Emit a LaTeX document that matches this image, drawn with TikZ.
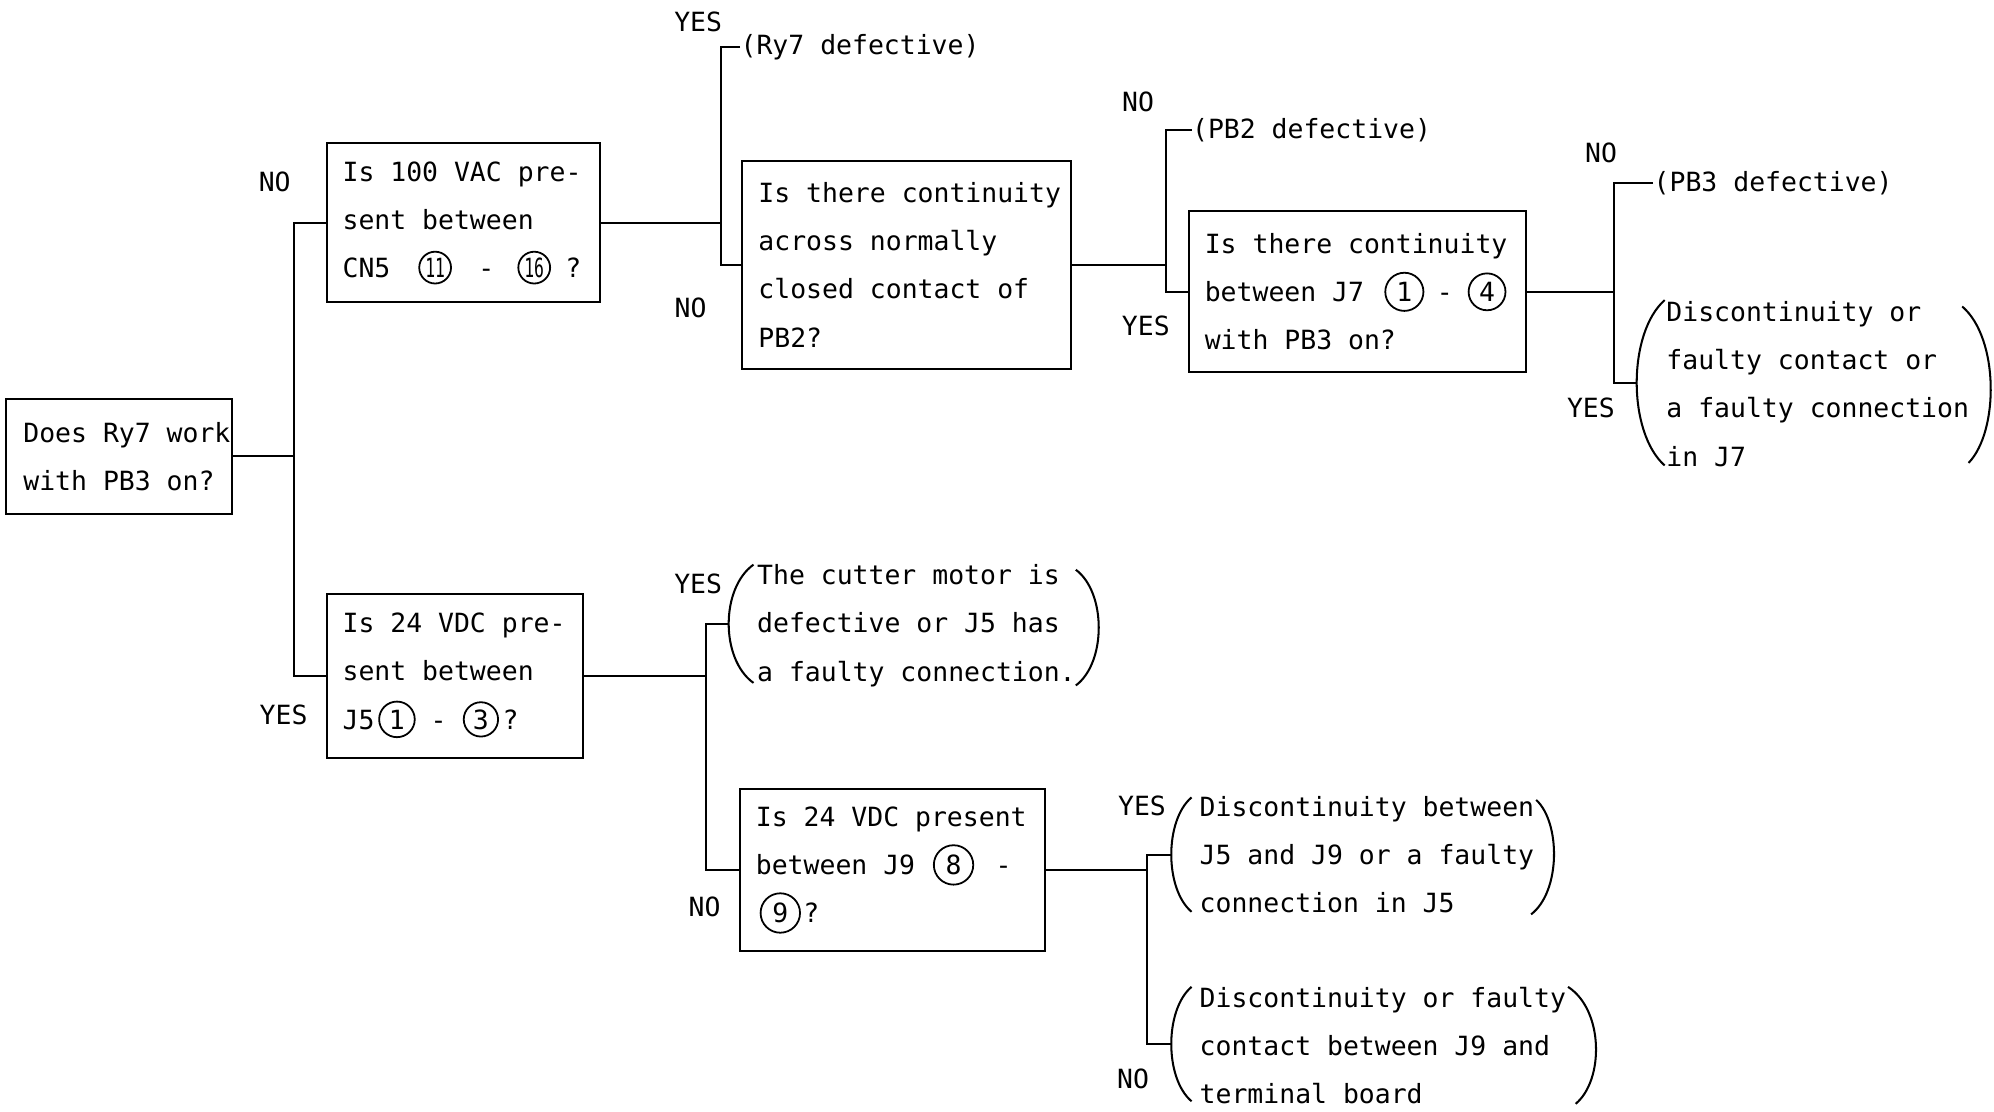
\documentclass[tikz,border=0pt]{standalone}
\usepackage{fontspec}
\usepackage{graphicx}
\newfontfamily\dvmono{DejaVu Sans Mono}
\newcommand{\cnum}[2]{\tikz[baseline=(cn.base)]\node[draw,circle,line width=0.7pt,inner sep=0pt,minimum size=#1](cn){#2};}
\newcommand{\cnumw}[2]{\cnum{#1}{\scalebox{0.62}[1]{#2}}}
\begin{document}
\begin{tikzpicture}[x=0.5pt,y=-0.5pt,
  qbox/.style={draw,line width=0.8pt,inner sep=0pt,anchor=north west},
  qtext/.style={align=left,inner sep=0pt,anchor=west,font=\dvmono\fontsize{10.4pt}{18.9pt}\selectfont},
  ylab/.style={inner sep=0pt,font=\dvmono\fontsize{10.4pt}{12pt}\selectfont},
  conn/.style={line width=0.8pt},
  paren/.style={line width=0.8pt}]
\useasboundingbox (0,0) rectangle (1568,874.4);

% question boxes
\node[qbox,minimum width=89pt,minimum height=45pt] (bA) at (4,313) {};
\node[qtext] (tA) at ([xshift=7pt]bA.west) {Does Ry7 work\\with PB3 on?};

\node[qbox,minimum width=107.5pt,minimum height=62.5pt] (bB) at (256,112) {};
\node[qtext] (tB) at ([xshift=6.5pt]bB.west) {Is 100 VAC pre-\\sent between\\CN5\hspace{11pt}\cnumw{12.5pt}{11}\hspace{10.4pt}-\hspace{9.1pt}\cnumw{12.5pt}{16}\hspace{5.6pt}?};

\node[qbox,minimum width=129pt,minimum height=81.5pt] (bD) at (583,126) {};
\node[qtext] (tD) at ([xshift=6.5pt]bD.west) {Is there continuity\\across normally\\closed contact of\\PB2?};

\node[qbox,minimum width=132.5pt,minimum height=63.5pt] (bE) at (934,165) {};
\node[qtext] (tE) at ([xshift=6.5pt]bE.west) {Is there continuity\\between J7\hspace{8pt}\cnum{15pt}{1}\hspace{4.9pt}-\hspace{5.9pt}\cnum{14.5pt}{4}\\with PB3 on?};

\node[qbox,minimum width=101pt,minimum height=64.5pt] (bC) at (256,466) {};
\node[qtext] (tC) at ([xshift=6.5pt]bC.west) {Is 24 VDC pre-\\sent between\\J5\hspace{1.5pt}\cnum{14pt}{1}\hspace{5.9pt}-\hspace{6.4pt}\cnum{13.5pt}{3}\hspace{1.4pt}?};

\node[qbox,minimum width=120pt,minimum height=63.5pt] (bG) at (581,620) {};
\node[qtext] (tG) at ([xshift=6.5pt]bG.west) {Is 24 VDC present\\between J9\hspace{7pt}\cnum{15.5pt}{8}\hspace{8.4pt}-\\\hspace*{1.5pt}\cnum{15.5pt}{9}\hspace{1pt}?};

% results
\node[qtext] (r1) at (582,37) {(Ry7 defective)};
\node[qtext] (r2) at (937,102) {(PB2 defective)};
\node[qtext] (r3) at (1300,144) {(PB3 defective)};
\node[qtext] (tF) at (1310,302) {Discontinuity or\\faulty contact or\\a faulty connection\\in J7};
\node[qtext] (tH) at (595,492) {The cutter motor is\\defective or J5 has\\a faulty connection.};
\node[qtext] (tI) at (943,672) {Discontinuity between\\J5 and J9 or a faulty\\connection in J5};
\node[qtext] (tJ) at (943,822) {Discontinuity or faulty\\contact between J9 and\\terminal board};

% parentheses around results
\draw[paren] (1309,236) .. controls (1279.7,262) and (1279.7,340) .. (1309,366);
\draw[paren] (1543,241) .. controls (1572,266) and (1572,339) .. (1548,364);
\draw[paren] (592.5,444) .. controls (566.5,462.6) and (566.5,518.4) .. (592.5,537);
\draw[paren] (846,448) .. controls (870,466) and (870,521) .. (846,539);
\draw[paren] (937,627) .. controls (915.7,645) and (915.7,699) .. (937,717);
\draw[paren] (1208,629) .. controls (1227.3,647) and (1227.3,701) .. (1204,719);
\draw[paren] (937,776) .. controls (915.7,794) and (915.7,848) .. (937,866);
\draw[paren] (1233,776) .. controls (1261.3,794.4) and (1261.3,849.6) .. (1239,868);

\coordinate (pF) at (1287,301);
\coordinate (pH) at (573,490.5);
\coordinate (pI) at (921,672);
\coordinate (pJ) at (921,821);

% junctions
\coordinate (v1) at (231,363);
\coordinate (v2) at (567,175);
\coordinate (v3) at (917,206);
\coordinate (v4) at (1269,228);
\coordinate (v5) at (555,530);
\coordinate (v6) at (902,684);

% connectors
\draw[conn] (bA.east) -- (bA.east -| v1);
\draw[conn] (bB.west) -| (v1) |- (bC.west);
\draw[conn] (bB.east) -- (bB.east -| v2);
\draw[conn] (r1.west) -| (v2) |- (bD.west);
\draw[conn] (bD.east) -- (bD.east -| v3);
\draw[conn] (r2.west) -| (v3) |- (bE.west);
\draw[conn] (bE.east) -- (bE.east -| v4);
\draw[conn] (r3.west) -| (v4) |- (pF);
\draw[conn] (bC.east) -- (bC.east -| v5);
\draw[conn] (pH) -| (v5) |- (bG.west);
\draw[conn] (bG.east) -- (bG.east -| v6);
\draw[conn] (pI) -| (v6) |- (pJ);

% YES / NO labels
\node[ylab] (l1) at (216,143) {NO};
\node[ylab] (l2) at (223,562) {YES};
\node[ylab] (l3) at (549,17) {YES};
\node[ylab] (l4) at (543,242) {NO};
\node[ylab] (l5) at (895,80) {NO};
\node[ylab] (l6) at (901,256) {YES};
\node[ylab] (l7) at (1259,120) {NO};
\node[ylab] (l8) at (1251,321) {YES};
\node[ylab] (l9) at (549,459) {YES};
\node[ylab] (l10) at (554,713) {NO};
\node[ylab] (l11) at (898,634) {YES};
\node[ylab] (l12) at (891,848) {NO};
\end{tikzpicture}
\end{document}
